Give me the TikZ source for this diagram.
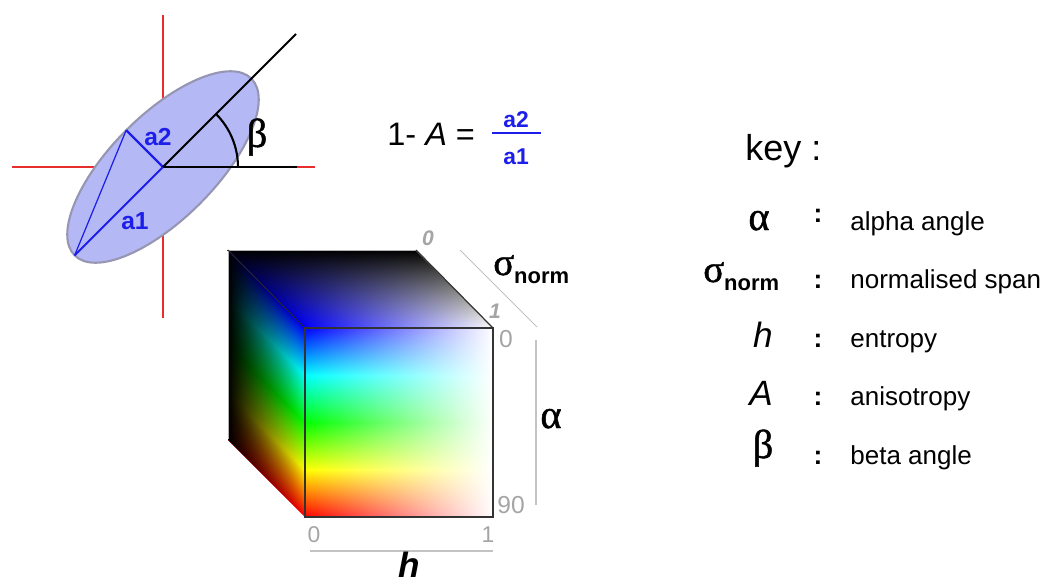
\documentclass[tikz,border=0pt]{standalone}
\usepackage{fontspec}
\setmainfont{Liberation Sans}
\newfontfamily\greekfont[FakeBold=1.2]{Liberation Serif}
\usetikzlibrary{fadings,positioning}

\definecolor{ellfill}{RGB}{180,184,245}
\definecolor{ellline}{RGB}{150,150,178}
\definecolor{axisred}{RGB}{232,45,45}
\definecolor{labblue}{RGB}{30,30,235}
\definecolor{axisgray}{RGB}{195,195,195}
\definecolor{numgray}{RGB}{165,165,165}

\pgfdeclareverticalshading{hueband}{100bp}{color(0bp)=(red); color(25bp)=(red); color(37.5bp)=(yellow); color(50bp)=(green); color(62.5bp)=(cyan); color(75bp)=(blue); color(100bp)=(blue)}
\tikzfading[name=fadeeast, left color=transparent!100, right color=transparent!0]
\tikzfading[name=fadenorth, bottom color=transparent!100, top color=transparent!0]
\tikzfading[name=fadewest, left color=transparent!0, right color=transparent!100]

\newcommand{\signorm}[1]{{\greekfont\fontsize{#1}{#1}\selectfont σ}\raisebox{-5pt}{\fontsize{12.5}{14}\bfseries\selectfont norm}}

\begin{document}
\begin{tikzpicture}[x=0.02cm,y=0.02cm,inner sep=0pt,
    redaxis/.style={draw=axisred, line width=0.6pt},
    blueline/.style={draw=labblue, line width=#1},
    blueline/.default=1.1pt,
    blackline/.style={draw=black, line width=1.2pt},
    bluelab/.style={text=labblue, font=\fontsize{#1}{#1}\bfseries\selectfont},
    bluelab/.default=14,
    greek/.style={font=\greekfont\fontsize{#1}{#1}\selectfont},
    keysym/.style={font=\fontsize{20}{22}\itshape\selectfont},
    keytext/.style={anchor=base west, font=\fontsize{14.8}{17}\selectfont},
    keycolon/.style={anchor=base, font=\fontsize{15}{17}\bfseries\selectfont},
    graynum/.style={text=numgray, font=\fontsize{#1}{#1}\selectfont},
    signum/.style={text=numgray, font=\fontsize{12}{14}\bfseries\itshape\selectfont},
    grayaxis/.style={draw=axisgray, line width=0.6pt},
    cubeedge/.style={draw=black!80, line width=0.7pt}]
\useasboundingbox (0,0) rectangle (1045,583);

% ellipse
\coordinate (c) at (163,416);
\coordinate (rtop) at (163,568);
\coordinate (rbot) at (163,265);
\coordinate (rleft) at (12,416);
\coordinate (rright) at (315,416);
\draw[redaxis] (rtop) -- (rbot);
\draw[redaxis] (rleft) -- (rright);
\draw[ellline, fill=ellfill, line width=1.2pt, rotate around={45:(c)}] (c) ellipse [x radius=2.5cm, y radius=1.04cm];
\coordinate (a1end) at (74.6,327.6);
\coordinate (a2end) at (126.2,452.8);
\coordinate (hor) at (297,416);
\coordinate (diag) at (296,549);
\draw[blueline] (c) -- (a1end);
\draw[blueline=1.3pt] (c) -- (a2end);
\draw[blueline=0.7pt] (a1end) -- (a2end);
\draw[blackline] (c) -- (hor);
\draw[blackline] (c) -- (diag);
\draw[blackline] (c) ++(1.5cm,0) arc[start angle=0, end angle=45, radius=1.5cm];
\node[bluelab] (la2) at (158,446) {a2};
\node[bluelab] (la1) at (135,362) {a1};
\node[greek=23] (beta) at (257,446) {β};

% formula
\node[anchor=base west, font=\fontsize{18.5}{20}\selectfont] (lhs) at (387,438) {1- \textit{A} =};
\node[bluelab=13] (num) at (516,463) {a2};
\node[bluelab=13] (den) at (516,426) {a1};
\coordinate (barl) at (492,450);
\coordinate (barr) at (541,450);
\draw[blueline=1.3pt] (barl) -- (barr);

% cube
\coordinate (ftl) at (305,255);
\coordinate (ftr) at (493,255);
\coordinate (fbl) at (305,66);
\coordinate (fbr) at (493,66);
\coordinate (btl) at (228,333);
\coordinate (btr) at (416,333);
\coordinate (bbl) at (228,144);
\begin{scope}[transform canvas={shift={(305,255)}, cm={1,0,-1,1,(0,0)}}]
  \path[left color=blue, right color=white] (0,0) rectangle (188,78);
  \fill[black, path fading=fadenorth] (0,0) rectangle (188,78);
\end{scope}
\begin{scope}[transform canvas={shift={(305,66)}, cm={1,-1,0,1,(0,0)}}]
  \path[shading=hueband] (-77,0) rectangle (0,189);
  \fill[black, path fading=fadewest] (-77,0) rectangle (0,189);
\end{scope}
\path[shading=hueband] (fbl) rectangle (ftr);
\fill[white, path fading=fadeeast] (fbl) rectangle (ftr);
\draw[draw=black!30, line width=0.5pt] (bbl) -- (btl) -- (btr);
\draw[draw=black!85, line width=0.5pt] (btl) -- (ftl);
\draw[cubeedge] (btr) -- (ftr);
\draw[cubeedge] (fbl) rectangle (ftr);

% axes
\coordinate (sa) at (460,333);
\coordinate (sb) at (537,256);
\coordinate (aa) at (536,243);
\coordinate (ab) at (536,78);
\coordinate (ha) at (310,32);
\coordinate (hb) at (493,32);
\draw[grayaxis] (sa) -- (sb);
\draw[grayaxis] (aa) -- (ab);
\draw[grayaxis] (ha) -- (hb);
\node[signum] (s0) at (428,345) {0};
\node[signum] (s1) at (495,272) {1};
\node[graynum=14] (a0) at (506,244) {0};
\node[graynum=14] (a90) at (511,78) {90};
\node[graynum=13] (h0) at (314,48) {0};
\node[graynum=13] (h1) at (488,48) {1};
\node[anchor=base west] (sig) at (493,308) {\signorm{22}};
\node[greek=23, anchor=base] (alp) at (551,155) {α};
\node[anchor=base, font=\fontsize{20}{22}\bfseries\itshape\selectfont] (hlab) at (409,6) {h};

% key
\node[anchor=base west, font=\fontsize{20.5}{22}\selectfont] (key) at (745,423) {key :};
\node[greek=23, anchor=base] (ka) at (759,353) {α};
\node[anchor=base west] (ks) at (703,301) {\signorm{22}};
\node[keysym, anchor=base] (kh) at (763,236) {h};
\node[keysym, anchor=base] (kA) at (761,178) {A};
\node[greek=23, anchor=base] (kb) at (763,125) {β};
\node[keycolon] (c1) at (818,361) {:};
\node[keycolon] (c2) at (818,295) {:};
\node[keycolon] (c3) at (818,236) {:};
\node[keycolon] (c4) at (818,178) {:};
\node[keycolon] (c5) at (818,119) {:};
\node[keytext] (t1) at (850,353) {alpha angle};
\node[keytext] (t2) at (850,295) {normalised span};
\node[keytext] (t3) at (850,236) {entropy};
\node[keytext] (t4) at (850,178) {anisotropy};
\node[keytext] (t5) at (850,119) {beta angle};
\end{tikzpicture}
\end{document}
